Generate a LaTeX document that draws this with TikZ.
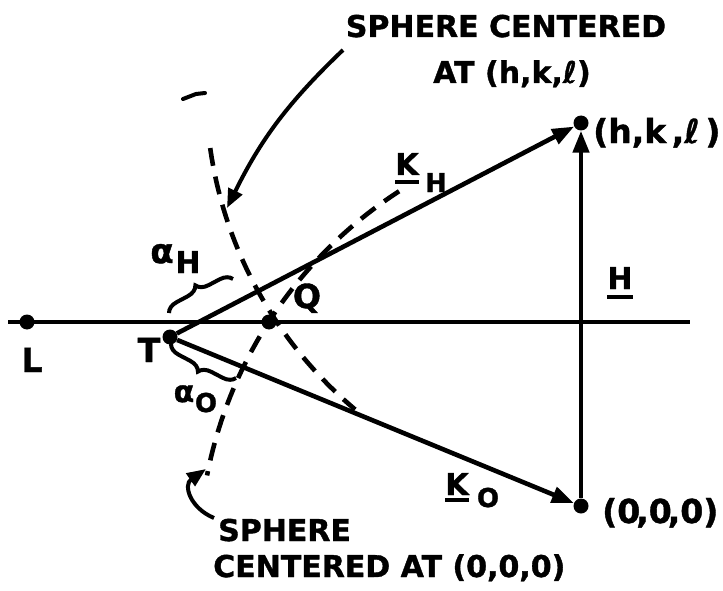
\documentclass[tikz,border=0pt]{standalone}
\usepackage{fontspec}
\setmainfont{DejaVu Sans}[BoldFeatures={FakeBold=1.2}]
\usetikzlibrary{arrows.meta,decorations.pathreplacing}
\tikzset{
  dot/.style={circle,fill=black,inner sep=0pt,minimum size=15pt},
  vecline/.style={line width=4.6pt,-{Triangle[length=22pt,width=16pt]}},
  plainline/.style={line width=4.6pt},
  dashcurve/.style={line width=4.6pt,dash pattern=on 18pt off 11pt},
  pointer/.style={line width=4pt,-{Triangle[length=19pt,width=15pt]}},
  lab/.style={font=\fontsize{30}{34}\selectfont\bfseries,inner sep=0pt},
  biglab/.style={font=\fontsize{33}{38}\selectfont\bfseries,inner sep=0pt},
  sublab/.style={font=\fontsize{26}{30}\selectfont\bfseries,inner sep=0pt},
  alphalab/.style={font=\fontsize{34}{38}\selectfont\bfseries,inner sep=0pt},
  ulline/.style={line width=4pt},
  bracestyle/.style={line width=4pt,decorate,decoration={brace,amplitude=12pt}}
}
\begin{document}
\begin{tikzpicture}[x=1pt,y=1pt]
\useasboundingbox (0,0) rectangle (723,-591);
% points
\node[dot] (L) at (27,-322) {};
\node[dot] (T) at (170,-337) {};
\node[dot] (Q) at (269,-322) {};
\node[dot] (P) at (581,-123) {};
\node[dot] (O) at (581,-506) {};
\coordinate (hl) at (8,-322);
\coordinate (hr) at (690,-322);
\draw[plainline] (hl) -- (hr);
% vectors
\draw[vecline] (T) -- (P);
\draw[vecline] (T) -- (O);
\draw[vecline] (O) -- (P);
% spheres
\coordinate (C1) at (625,-89);
\coordinate (C2) at (637,-559);
\draw[dashcurve] (C1) ++(188.1:419) arc[start angle=188.1,end angle=229.9,radius=419];
\draw[dashcurve] (C2) ++(122.9:438) arc[start angle=122.9,end angle=169,radius=438];
% pointers
\coordinate (s1) at (343,-50);
\coordinate (e1) at (227,-208);
\draw[pointer] (s1) to[bend right=10] (e1);
\coordinate (s2) at (214,-518);
\coordinate (e2) at (206,-469);
\draw[pointer] (s2) .. controls (190,-508) and (183,-485) .. (e2);
% braces
\coordinate (bh1) at (169,-313);
\coordinate (bh2) at (233,-279);
\draw[bracestyle] (bh1) -- (bh2);
\coordinate (bo1) at (236,-378);
\coordinate (bo2) at (171,-344);
\draw[bracestyle] (bo1) -- (bo2);
% stray mark
\draw[line width=4pt,line cap=round] (183,-99) -- (196,-94) -- (205,-93);
% texts
\node[lab,anchor=base] (tA) at (506,-37) {SPHERE CENTERED};
\node[lab,anchor=base] (tB) at (512,-83) {AT (h,k,ℓ)};
\node[lab,anchor=base west] (bA) at (218,-541) {SPHERE};
\node[lab,anchor=base west] (bB) at (213,-577) {CENTERED AT (0,0,0)};
\node[biglab,anchor=base west] (Plab) at (593,-143) {(h,k\,,ℓ\,)};
\node[biglab,anchor=base west] (Olab) at (602,-523) {(0\kern-4pt,0\kern-4pt,0)};
\node[biglab,anchor=base] (Llab) at (32,-372) {L};
\node[biglab,anchor=base] (Tlab) at (149,-362) {T};
\node[biglab,anchor=base] (Qlab) at (307,-308) {Q};
\node[lab,anchor=base] (Hlab) at (620,-289) {H};
\draw[ulline] ([yshift=-8pt]Hlab.base west) -- ([yshift=-8pt]Hlab.base east);
\node[lab,anchor=base] (KH) at (407,-175) {K};
\draw[ulline] ([yshift=-7pt]KH.base west) -- ([yshift=-7pt]KH.base east);
\node[sublab,anchor=base] (KHs) at (436,-192) {H};
\node[lab,anchor=base] (KO) at (457,-495) {K};
\draw[ulline] ([yshift=-5pt]KO.base west) -- ([yshift=-5pt]KO.base east);
\node[sublab,anchor=base] (KOs) at (488,-507) {O};
\node[alphalab,anchor=base] (aH) at (162,-263) {α};
\node[lab,anchor=base] (aHs) at (188,-273) {H};
\node[lab,anchor=base] (aO) at (184,-402) {α};
\node[sublab,anchor=base] (aOs) at (206,-412) {O};
\end{tikzpicture}
\end{document}
